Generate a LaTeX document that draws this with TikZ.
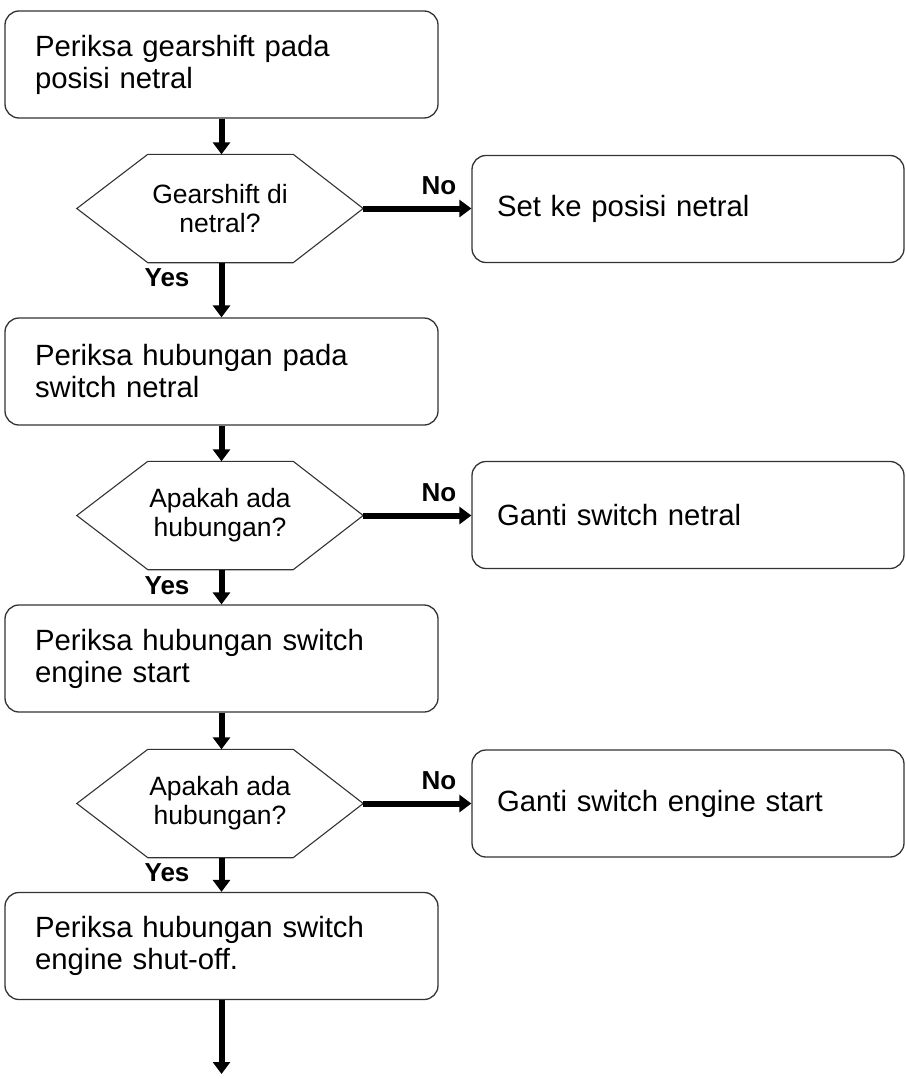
\documentclass[tikz,border=0pt]{standalone}
\usepackage{fontspec}
\setmainfont{Liberation Sans}
\usetikzlibrary{arrows.meta}
\begin{document}
\begin{tikzpicture}[x=1pt,y=-1pt,
  box/.style={draw=black!80, line width=1.3pt, rounded corners=14pt, minimum height=107pt, inner sep=0pt, align=left, font=\fontsize{29.3}{32}\selectfont},
  lbox/.style={box, minimum width=433pt, text width=373pt},
  rbox/.style={box, minimum width=432pt, text width=382pt},
  dec/.style={minimum width=286pt, minimum height=108pt, inner sep=0pt, align=center, font=\fontsize{26.5}{29}\selectfont},
  hexline/.style={draw=black!80, line width=1.1pt},
  flow/.style={line width=6pt, -{Triangle[length=12pt,width=17pt]}},
  lab/.style={inner sep=0pt, font=\fontsize{26}{28}\selectfont\bfseries}
]
\useasboundingbox (0,0) rectangle (905,1079);

\node[lbox] (b1) at (221.5,64.5) {Periksa gearshift pada\\posisi netral};
\node[dec] (d1) at (220,208.5) {Gearshift di\\netral?};
\node[rbox] (b2) at (688,209) {Set ke posisi netral};
\node[lbox] (b3) at (221.5,371.5) {Periksa hubungan pada\\switch netral};
\node[dec] (d2) at (220,515.5) {Apakah ada\\hubungan?};
\node[rbox] (b4) at (688,515) {Ganti switch netral};
\node[lbox] (b5) at (221.5,658.5) {Periksa hubungan switch\\engine start};
\node[dec] (d3) at (220,803.5) {Apakah ada\\hubungan?};
\node[rbox] (b6) at (688,803.5) {Ganti switch engine start};
\node[lbox] (b7) at (221.5,946) {Periksa hubungan switch\\engine shut-off.};
\coordinate (end) at (221.5,1074);

\foreach \d in {d1,d2,d3}{
  \draw[hexline] (\d.west) -- ([xshift=71pt]\d.north west) -- ([xshift=-70pt]\d.north east) -- (\d.east) -- ([xshift=-70pt]\d.south east) -- ([xshift=71pt]\d.south west) -- cycle;
}

\draw[flow] (b1.south) -- (d1.north -| b1.south);
\draw[flow] (d1.east) -- (b2.west |- d1.east) node[lab, pos=0.7, anchor=south, yshift=11pt] (n1) {No};
\draw[flow] (d1.south -| b3.north) -- (b3.north);
\node[lab] (y1) at (167,278) {Yes};

\draw[flow] (b3.south) -- (d2.north -| b3.south);
\draw[flow] (d2.east) -- (b4.west |- d2.east) node[lab, pos=0.7, anchor=south, yshift=11pt] (n2) {No};
\draw[flow] (d2.south -| b5.north) -- (b5.north);
\node[lab] (y2) at (167,586) {Yes};

\draw[flow] (b5.south) -- (d3.north -| b5.south);
\draw[flow] (d3.east) -- (b6.west |- d3.east) node[lab, pos=0.7, anchor=south, yshift=11pt] (n3) {No};
\draw[flow] (d3.south -| b7.north) -- (b7.north);
\node[lab] (y3) at (167,873) {Yes};

\draw[flow] (b7.south) -- (end);
\end{tikzpicture}
\end{document}
